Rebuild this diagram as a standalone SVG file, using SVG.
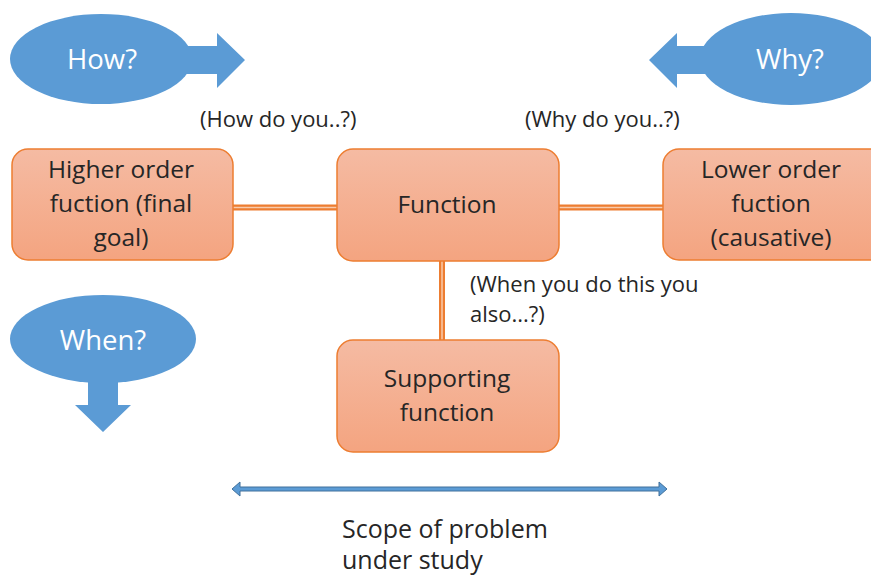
<svg xmlns="http://www.w3.org/2000/svg" width="871" height="576" viewBox="0 0 871 576">
<defs>
<linearGradient id="g" x1="0" y1="0" x2="0" y2="1">
<stop offset="0" stop-color="#f5bba3"/>
<stop offset="1" stop-color="#f4a480"/>
</linearGradient>
</defs>
<style>
.box{fill:url(#g);stroke:#ed7d31;stroke-width:1.5}
.bt{font-family:"Open Sans","Liberation Sans",sans-serif;font-size:24.5px;fill:#262626;text-anchor:middle}
.blue{fill:#5b9bd5}
.wt{font-family:"Open Sans","Liberation Sans",sans-serif;font-size:27.5px;fill:#ffffff;text-anchor:middle}
.lab{font-family:"Open Sans","Liberation Sans",sans-serif;font-size:22px;fill:#262626}
.sc{font-family:"Open Sans","Liberation Sans",sans-serif;font-size:25px;fill:#262626}
.co{stroke:#ed7d31;stroke-width:6;fill:none}
.ci{stroke:#f8cbad;stroke-width:1.5;fill:none}
</style>
<rect width="871" height="576" fill="#ffffff"/>
<g id="connectors">
<line class="co" x1="233" y1="207.5" x2="337" y2="207.5"/>
<line class="ci" x1="233" y1="207.5" x2="337" y2="207.5"/>
<line class="co" x1="559" y1="207.5" x2="663" y2="207.5"/>
<line class="ci" x1="559" y1="207.5" x2="663" y2="207.5"/>
<line class="co" x1="442" y1="261" x2="442" y2="340"/>
<line class="ci" x1="442" y1="261" x2="442" y2="340"/>
</g>
<g id="how">
<ellipse class="blue" cx="101" cy="59" rx="91" ry="45"/>
<polygon class="blue" points="180,46 217,46 217,33 245,60 217,88 217,74 180,74"/>
<text class="wt" x="102" y="69">How?</text>
</g>
<g id="why">
<ellipse class="blue" cx="791" cy="59" rx="91" ry="46"/>
<polygon class="blue" points="710,46 677,46 677,33 649,60 677,88 677,74 710,74"/>
<text class="wt" x="790" y="69">Why?</text>
</g>
<g id="when">
<ellipse class="blue" cx="103" cy="339" rx="93" ry="44"/>
<polygon class="blue" points="88,370 88,405 75,405 103,432 131,405 118,405 118,370"/>
<text class="wt" x="103" y="350">When?</text>
</g>
<text class="lab" x="200" y="127">(How do you..?)</text>
<text class="lab" x="525" y="127">(Why do you..?)</text>
<g id="higher">
<rect class="box" x="12" y="149" width="221" height="111" rx="16"/>
<text class="bt" x="121" y="178">Higher order</text>
<text class="bt" x="121" y="212">fuction (final</text>
<text class="bt" x="121" y="246">goal)</text>
</g>
<g id="function">
<rect class="box" x="337" y="149" width="222" height="112" rx="16"/>
<text class="bt" x="447" y="213">Function</text>
</g>
<g id="lower">
<rect class="box" x="663" y="149" width="222" height="111" rx="16"/>
<text class="bt" x="771" y="178">Lower order</text>
<text class="bt" x="771" y="212">fuction</text>
<text class="bt" x="771" y="246">(causative)</text>
</g>
<g id="supporting">
<rect class="box" x="337" y="340" width="222" height="112" rx="16"/>
<text class="bt" x="447" y="387">Supporting</text>
<text class="bt" x="447" y="421">function</text>
</g>
<text class="lab" x="470" y="292">(When you do this you</text>
<text class="lab" x="470" y="322">also...?)</text>
<g id="scope">
<polygon points="232,489 240,482 240,487 659,487 659,482 667,489 659,496 659,491 240,491 240,496" fill="#5b9bd5" stroke="#41719c" stroke-width="1"/>
<text class="sc" x="342" y="538">Scope of problem</text>
<text class="sc" x="342" y="569">under study</text>
</g>
</svg>
